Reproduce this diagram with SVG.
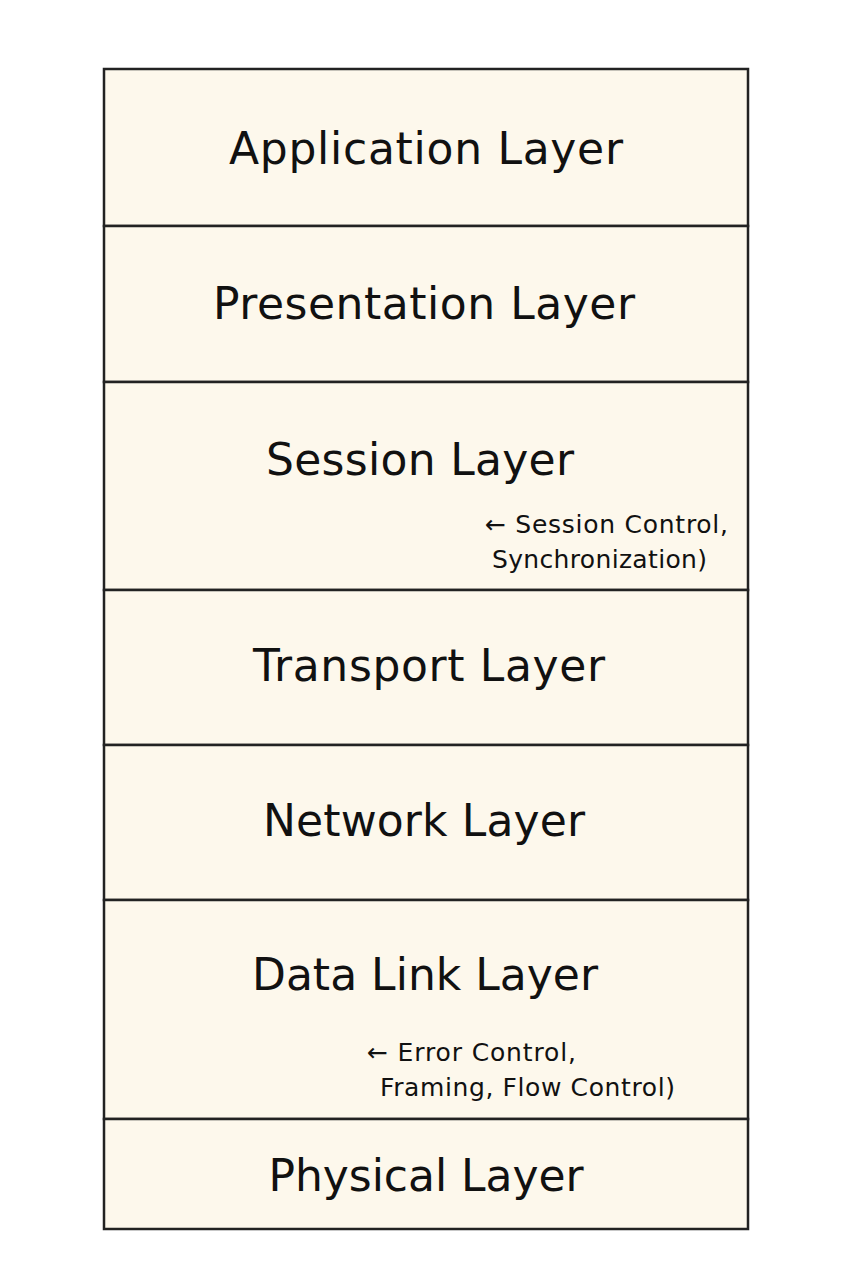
<svg xmlns="http://www.w3.org/2000/svg" width="853" height="1280" viewBox="0 0 853 1280">
<style>
.box{fill:#fdf8ec;stroke:#222;stroke-width:2.5}
.t{font-family:"DejaVu Sans",sans-serif;font-size:44px;fill:#111;text-anchor:middle}
.s{font-family:"DejaVu Sans",sans-serif;font-size:25px;fill:#111}
</style>
<rect width="853" height="1280" fill="#fff"/>
<g id="application"><rect class="box" x="104" y="69" width="644" height="157"/><text class="t" x="426" y="164" textLength="394">Application Layer</text></g>
<g id="presentation"><rect class="box" x="104" y="226" width="644" height="156"/><text class="t" x="424" y="319" textLength="422">Presentation Layer</text></g>
<g id="session"><rect class="box" x="104" y="382" width="644" height="208"/><text class="t" x="420" y="475" textLength="308">Session Layer</text>
<text class="s" x="485" y="533" textLength="243">← Session Control,</text><text class="s" x="492" y="568" textLength="215">Synchronization)</text></g>
<g id="transport"><rect class="box" x="104" y="590" width="644" height="155"/><text class="t" x="429" y="681" textLength="352">Transport Layer</text></g>
<g id="network"><rect class="box" x="104" y="745" width="644" height="155"/><text class="t" x="424" y="836" textLength="322">Network Layer</text></g>
<g id="datalink"><rect class="box" x="104" y="900" width="644" height="219"/><text class="t" x="425" y="990" textLength="346">Data Link Layer</text>
<text class="s" x="367" y="1061" textLength="209">← Error Control,</text><text class="s" x="380" y="1096" textLength="295">Framing, Flow Control)</text></g>
<g id="physical"><rect class="box" x="104" y="1119" width="644" height="110"/><text class="t" x="426" y="1191" textLength="315">Physical Layer</text></g>
<g id="connectors"></g>
</svg>
